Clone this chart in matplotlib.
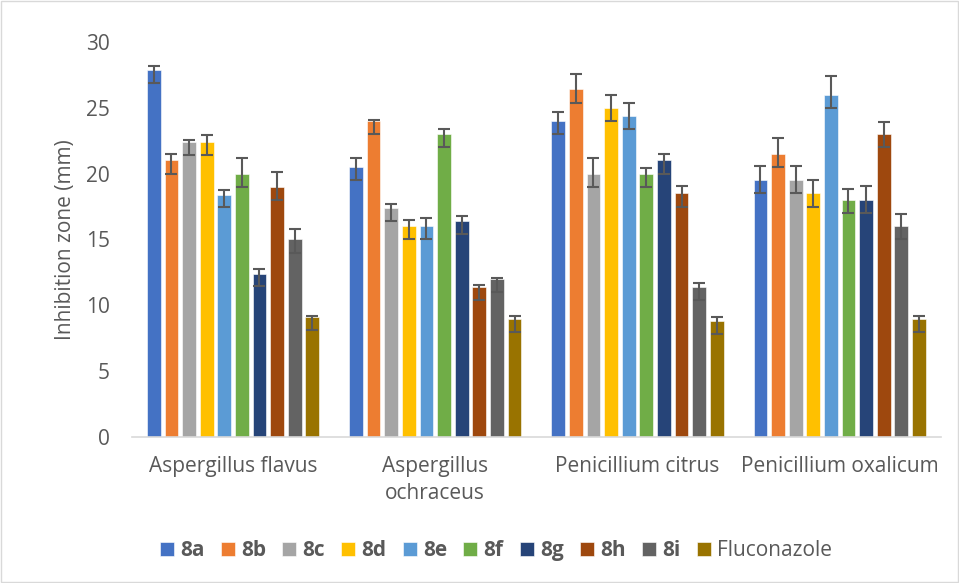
import numpy as np
import matplotlib.pyplot as plt
from matplotlib.patches import Rectangle

plt.rcParams['font.family'] = ['Open Sans', 'DejaVu Sans']

# Data
categories = ["Aspergillus flavus", "Aspergillus\nochraceus", "Penicillium citrus", "Penicillium oxalicum"]
series = ["8a", "8b", "8c", "8d", "8e", "8f", "8g", "8h", "8i", "Fluconazole"]
colors = ["#4472C4", "#ED7D31", "#A5A5A5", "#FFC000", "#5B9BD5",
          "#70AD47", "#264478", "#9E480E", "#636363", "#997300"]

# values[series][category]
values = [
    [27.9, 20.5, 24.0, 19.5],   # 8a
    [21.0, 24.0, 26.4, 21.5],   # 8b
    [22.4, 17.4, 20.0, 19.5],   # 8c
    [22.4, 16.0, 25.0, 18.5],   # 8d
    [18.4, 16.0, 24.4, 26.0],   # 8e
    [20.0, 23.0, 20.0, 18.0],   # 8f
    [12.4, 16.4, 21.0, 18.0],   # 8g
    [19.0, 11.4, 18.5, 23.0],   # 8h
    [15.0, 12.0, 11.4, 16.0],   # 8i
    [9.1, 9.0, 8.8, 9.0],       # Fluconazole
]
err_up = [
    [0.3, 0.7, 0.7, 1.1],
    [0.5, 0.1, 1.2, 1.2],
    [0.15, 0.3, 1.2, 1.1],
    [0.5, 0.5, 1.0, 1.0],
    [0.35, 0.6, 0.95, 1.4],
    [1.2, 0.4, 0.4, 0.85],
    [0.35, 0.35, 0.5, 1.1],
    [1.1, 0.15, 0.6, 0.9],
    [0.8, 0.1, 0.3, 0.9],
    [0.1, 0.2, 0.35, 0.2],
]
err_low = [
    [1.0, 1.0, 1.0, 1.0],
    [1.0, 1.0, 1.0, 1.0],
    [0.95, 1.0, 1.0, 1.0],
    [0.95, 1.0, 1.0, 1.0],
    [0.95, 1.0, 1.0, 1.0],
    [1.0, 1.0, 1.0, 1.0],
    [0.95, 1.0, 1.0, 1.0],
    [1.0, 1.0, 1.0, 1.0],
    [1.0, 1.0, 1.0, 1.0],
    [1.0, 1.0, 1.0, 1.0],
]

fig = plt.figure(figsize=(9.59, 5.83), dpi=100)
ax = fig.add_axes([0.1376, 0.2504, 0.8434, 0.6776])

x = np.arange(len(categories))
step = 0.0871
width = 0.068
for i, name in enumerate(series):
    pos = x + (i - 4.5) * step
    ax.bar(pos, values[i], width=width, color=colors[i], label=name,
           edgecolor="white", linewidth=0.4)
    ax.errorbar(pos, values[i], yerr=[err_low[i], err_up[i]], fmt="none",
                ecolor="#595959", elinewidth=1.5, capsize=4.5, capthick=1.5)

ax.set_xlim(-0.5, len(categories) - 0.5)
ax.set_ylim(0, 30)
ax.set_yticks(np.arange(0, 31, 5))
ax.set_xticks(x)
ax.set_xticklabels(categories, linespacing=1.35)
ax.tick_params(axis="both", length=0, labelsize=15, colors="#595959")
ax.tick_params(axis="x", pad=14)
ax.tick_params(axis="y", pad=16)
for s in ["top", "right", "left"]:
    ax.spines[s].set_visible(False)
ax.spines["bottom"].set_color("#D9D9D9")
ax.spines["bottom"].set_linewidth(1.2)
ax.set_ylabel("Inhibition zone (mm)", fontsize=15, color="#595959", labelpad=7)

leg = fig.legend(loc="center", bbox_to_anchor=(0.517, 0.055), ncol=10, frameon=False,
                 fontsize=15, handlelength=0.67, handleheight=0.67,
                 handletextpad=0.3, columnspacing=0.78)
for t in leg.get_texts():
    t.set_color("#595959")
    if t.get_text() != "Fluconazole":
        t.set_fontweight("bold")

fig.patches.append(Rectangle((0.001, 0.001), 0.998, 0.998, transform=fig.transFigure,
                             fill=False, edgecolor="#D9D9D9", linewidth=1))

fig.savefig("out.png", dpi=100)
